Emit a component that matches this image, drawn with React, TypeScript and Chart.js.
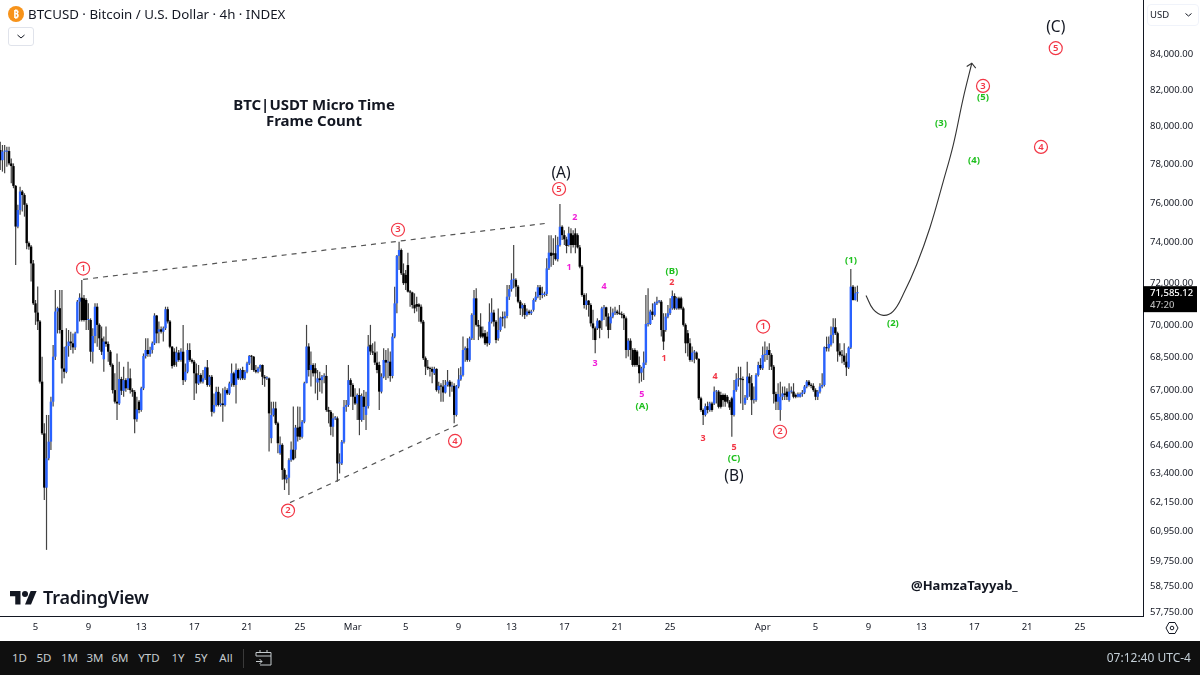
import { useEffect, useRef } from "react"
import { Chart, registerables } from "chart.js"

Chart.register(...registerables)

const FONT = '"Noto Sans", sans-serif'

// 4h candles, BTCUSD
const opens = [
  78760, 78220, 78670, 78670, 78700, 78050, 77910, 76880, 74810, 75650,
  76590, 76410, 75910, 73980, 73810, 72980, 71050, 70610, 70190, 67410,
  65110, 62780, 64030, 64750, 66510, 68550, 70660, 70820, 69790, 68010,
  67860, 69040, 69250, 69170, 68980, 69630, 71130, 71320, 71290, 71210,
  70260, 70260, 68780, 69510, 70890, 70030, 69400, 68430, 69250, 69140,
  68780, 68170, 67030, 66510, 66430, 67530, 67000, 67480, 67110, 67560,
  67030, 66950, 65730, 66510, 66140, 67110, 68580, 68860, 68670, 68860,
  69170, 70470, 69710, 69820, 69710, 69870, 70770, 70190, 69010, 68780,
  68320, 68740, 68400, 68780, 67480, 67860, 68860, 68400, 68320, 67790,
  67330, 67710, 67410, 67560, 68060, 67260, 67630, 66060, 66360, 66950,
  66360, 66430, 66360, 67030, 66880, 67330, 67790, 67260, 67940, 67560,
  67940, 67560, 67860, 68240, 68580, 68550, 67940, 67860, 68010, 68170,
  67630, 67560, 67560, 64900, 65920, 66210, 65550, 64250, 64610, 63530,
  63130, 63200, 63950, 64400, 64400, 65360, 65400, 64960, 65620, 67340,
  69020, 67940, 68170, 68020, 67370, 67560, 67480, 67640, 67670, 66140,
  66060, 65400, 65770, 65770, 63810, 63810, 64740, 66280, 66360, 67480,
  67260, 66730, 66430, 66810, 65700, 66730, 65920, 66310, 69100, 68790,
  68740, 68280, 68170, 66960, 67640, 68400, 68280, 68320, 67670, 69480,
  71050, 73350, 73640, 72500, 72420, 72900, 71610, 71570, 70970, 71020,
  71000, 70890, 70180, 68480, 68090, 68020, 67990, 67790, 67990, 67030,
  67220, 67190, 66920, 67260, 67410, 67190, 67220, 65920, 67190, 67510,
  67710, 68860, 68940, 68400, 69400, 70500, 71290, 70030, 69950, 69640,
  69640, 69480, 69170, 70180, 70610, 70180, 69400, 69790, 70370, 70340,
  70450, 71370, 71730, 72180, 72180, 71850, 71130, 70810, 70970, 70500,
  70660, 70580, 70740, 71210, 71370, 71820, 71450, 71450, 71500, 72740,
  73510, 73480, 73480, 73190, 73890, 74800, 74380, 74170, 73890, 74470,
  74380, 74470, 74380, 73770, 72820, 71450, 70970, 71180, 70970, 70100,
  69870, 69870, 70230, 70230, 70810, 70860, 70420, 70100, 70420, 70610,
  70660, 70580, 70550, 70500, 70340, 68860, 69290, 68860, 68860, 68790,
  68170, 67820, 68020, 68280, 70070, 70070, 70660, 70500, 71050, 71130,
  71130, 69790, 69790, 70420, 70580, 70810, 71400, 70810, 71290, 71290,
  70810, 70030, 69640, 69170, 68400, 68740, 68740, 68450, 66660, 66140,
  65920, 66310, 66140, 66430, 66430, 66960, 66960, 66810, 66810, 66810,
  66730, 66510, 66660, 65920, 67030, 67510, 67560, 67510, 66430, 66690,
  67640, 67340, 66580, 66580, 67710, 68170, 68020, 68630, 68630, 68860,
  68630, 68090, 66850, 66510, 66140, 66730, 66880, 66960, 66580, 66960,
  66960, 66810, 66730, 66730, 66850, 66920, 67190, 67410, 67260, 67220,
  67030, 66730, 66960, 67190, 67260, 68990, 68940, 69100, 69560, 69920,
  69640, 68790, 68630, 68600, 68320, 68060, 68970, 71850, 71210, 71530,
]

const highs = [
  79200, 79020, 79020, 78930, 78930, 78310, 78050, 76930, 75910, 76840,
  76670, 76500, 75990, 74060, 73890, 73150, 71210, 71860, 70260, 68550,
  65550, 65920, 65920, 66730, 69090, 71690, 70890, 71690, 71690, 69010,
  69870, 69790, 69710, 69630, 69710, 71210, 71530, 72170, 71450, 71290,
  71050, 70340, 69870, 71050, 71050, 70100, 69950, 69480, 69950, 69250,
  68860, 68240, 67790, 68700, 68320, 67630, 68090, 67560, 68320, 68010,
  67110, 67030, 66730, 66580, 67180, 68700, 69400, 69400, 69010, 69250,
  70580, 70500, 70190, 69950, 69950, 70890, 70890, 70260, 69040, 68940,
  69010, 68860, 68940, 70030, 68240, 69170, 69170, 68470, 68400, 68240,
  68170, 67790, 67940, 68090, 68400, 67710, 67710, 66880, 67180, 67180,
  66880, 67110, 67180, 67110, 67410, 68240, 67860, 68240, 68010, 68010,
  68090, 67940, 68320, 68630, 68630, 68580, 68170, 68090, 68190, 68190,
  67710, 67660, 67600, 66510, 66510, 66510, 65620, 64970, 64680, 63600,
  63320, 64030, 64750, 66290, 65480, 66290, 66280, 65700, 67410, 70030,
  69170, 68790, 68250, 68250, 67940, 67860, 67710, 67790, 68170, 66280,
  66140, 65990, 65870, 65850, 64240, 64820, 66580, 66580, 68170, 67560,
  67340, 67110, 66880, 67110, 66880, 67030, 66960, 69560, 70030, 69170,
  69250, 68790, 68320, 67790, 68940, 68860, 68940, 68790, 69640, 71850,
  73400, 74050, 73720, 72980, 72660, 73510, 71690, 71610, 71530, 71370,
  71050, 71000, 70260, 68560, 68400, 68090, 68090, 68090, 68020, 67410,
  67340, 67480, 67480, 67940, 67480, 67410, 67340, 67260, 68020, 68090,
  69480, 69020, 69400, 69480, 70580, 71690, 71770, 70260, 70580, 69950,
  69790, 69710, 71050, 71290, 70740, 70260, 70810, 70420, 70660, 70660,
  71930, 71930, 72500, 73890, 72260, 71930, 71210, 71050, 71050, 70810,
  70740, 70740, 71290, 71610, 71930, 71930, 71850, 71610, 73230, 74380,
  74380, 74220, 74380, 74300, 75950, 74880, 74630, 74300, 74800, 74720,
  74630, 74720, 74470, 73890, 72900, 71530, 71530, 71210, 71050, 70740,
  69950, 70340, 70260, 70890, 70970, 70890, 70580, 70890, 70810, 70890,
  70740, 70970, 70660, 70580, 70420, 69400, 69400, 68940, 68940, 68860,
  68560, 68090, 68790, 71450, 71770, 70740, 71050, 71130, 71370, 71210,
  71210, 70580, 70580, 70970, 71290, 71660, 71530, 71370, 71370, 71370,
  70890, 70100, 69790, 69400, 69020, 68860, 68790, 68480, 66730, 66210,
  66430, 66510, 66510, 66510, 67190, 67030, 67030, 66960, 66880, 66880,
  66810, 66580, 66730, 67480, 67790, 68090, 68090, 67640, 66810, 68320,
  67790, 67710, 67190, 67790, 68320, 68480, 69020, 69250, 69020, 69170,
  68710, 68170, 66960, 67340, 67410, 67190, 67190, 67110, 67340, 67190,
  67340, 66880, 66920, 66920, 67030, 67260, 67480, 67480, 67340, 67340,
  67110, 67030, 67340, 67790, 69020, 69480, 69480, 69950, 70340, 70340,
  69710, 69170, 68860, 69170, 68710, 69020, 72710, 71930, 71850, 71900,
]

const lows = [
  77700, 77620, 77530, 77880, 77960, 77020, 76760, 72900, 74720, 75400,
  75570, 75310, 73680, 73650, 72100, 70970, 70030, 69790, 67330, 65040,
  62260, 60210, 63950, 64390, 66290, 68400, 69630, 69630, 67330, 67560,
  67790, 68550, 68860, 68700, 68860, 69790, 70190, 70190, 70190, 69790,
  69790, 68320, 68240, 69170, 69010, 68860, 68630, 67860, 69010, 68320,
  68090, 66880, 66430, 65700, 66360, 66810, 66730, 66950, 67030, 66880,
  66730, 65110, 65620, 65990, 66060, 67030, 68470, 68550, 68550, 68700,
  69090, 69170, 69170, 69630, 69250, 69790, 70100, 68940, 68010, 68090,
  68090, 68320, 68320, 67260, 67410, 67790, 68320, 68240, 66580, 66880,
  67260, 67330, 67330, 67480, 67180, 67180, 65850, 65990, 66290, 66290,
  66290, 65620, 66290, 66810, 66810, 67180, 67180, 66430, 67480, 67480,
  67480, 67480, 67790, 68170, 67940, 67860, 67790, 67790, 67860, 67260,
  67180, 67480, 64320, 64680, 65850, 65480, 64250, 64180, 63110, 62680,
  62960, 62470, 63880, 63950, 64030, 64750, 64820, 64890, 65550, 67340,
  67640, 67190, 67640, 66880, 66580, 66960, 66880, 67340, 66060, 65550,
  65030, 64960, 65700, 63030, 63380, 63740, 64670, 66060, 66280, 66730,
  66140, 66360, 65700, 65030, 65620, 65700, 65260, 66210, 68630, 68630,
  68170, 67790, 66140, 66880, 67560, 67480, 67560, 67410, 67560, 69400,
  70580, 72660, 72420, 71930, 71690, 71570, 70890, 70810, 70580, 70660,
  70180, 70100, 68400, 67710, 67940, 67640, 67340, 67710, 66960, 66880,
  66510, 66510, 66880, 67190, 66730, 66960, 65550, 65850, 67110, 67450,
  67640, 68320, 68320, 68320, 69320, 69320, 69950, 69320, 69400, 69400,
  69090, 69020, 69090, 70100, 69950, 69170, 69290, 69710, 69950, 69870,
  70340, 71210, 71610, 71770, 71370, 71050, 70500, 70420, 70310, 70420,
  70500, 70500, 70660, 71130, 71290, 71210, 71290, 71370, 71400, 72660,
  72820, 72900, 73120, 73070, 73810, 74140, 73890, 73480, 73810, 73480,
  73770, 73480, 73720, 72740, 71370, 70810, 70740, 70420, 69950, 69320,
  68710, 69790, 69400, 69790, 70260, 69950, 69400, 69790, 70340, 70500,
  70500, 70500, 70340, 69790, 68480, 68560, 68400, 68090, 68090, 68090,
  67340, 67410, 67480, 68170, 69950, 70030, 70260, 70420, 70970, 71050,
  69480, 68860, 69710, 70340, 70500, 70740, 70740, 70740, 70740, 70740,
  69950, 68710, 68560, 68320, 68320, 68250, 68400, 66580, 66060, 65480,
  65850, 65990, 66060, 66060, 66360, 66430, 66210, 66210, 66280, 66280,
  66430, 66140, 64960, 65850, 66960, 67190, 66430, 66140, 66360, 66580,
  66730, 65920, 66430, 66510, 67640, 67940, 67940, 68320, 68400, 67940,
  67940, 66430, 66140, 66140, 65660, 66580, 66580, 66580, 66510, 66880,
  66660, 66660, 66700, 66700, 66730, 66850, 67110, 67190, 67110, 66960,
  66580, 66580, 66880, 67110, 67190, 68790, 68790, 69020, 69170, 69560,
  68320, 68560, 68250, 68170, 67670, 67990, 68910, 71180, 71180, 71130,
]

const closes = [
  78220, 78670, 78670, 78700, 78050, 77910, 76880, 74810, 75650, 76590,
  76410, 75910, 73980, 73810, 72980, 71050, 70610, 70190, 67410, 65110,
  62780, 64030, 64750, 66510, 68550, 70660, 70820, 69790, 68010, 67860,
  69040, 69250, 69170, 68980, 69630, 71130, 71320, 70260, 70260, 70260,
  70260, 68780, 69510, 70890, 70030, 69400, 68780, 69250, 69140, 68780,
  68170, 67030, 66510, 66430, 67530, 67000, 67480, 67110, 67560, 67030,
  66950, 65730, 66170, 66140, 67110, 68580, 68860, 68670, 68860, 69170,
  70470, 69630, 69820, 69710, 69870, 70770, 70190, 69010, 68120, 68170,
  68740, 68400, 68780, 67480, 67860, 68860, 68400, 68320, 67790, 67330,
  67710, 67410, 67560, 68060, 67260, 67630, 66060, 66360, 66950, 66360,
  66430, 66360, 67030, 66880, 67330, 67790, 67260, 67940, 67560, 67940,
  67560, 67860, 68240, 68580, 68550, 67940, 67860, 68010, 68170, 67630,
  67560, 67600, 65990, 65920, 66210, 65550, 64680, 64610, 63530, 63130,
  63200, 63950, 64400, 63980, 65360, 64970, 64960, 65620, 67340, 69020,
  67940, 68170, 67790, 67790, 67560, 67480, 67640, 67670, 66140, 66060,
  65400, 65770, 65770, 63810, 63810, 64740, 66280, 66360, 67480, 67260,
  66730, 66430, 66810, 65700, 66760, 66280, 66310, 69020, 68790, 68740,
  68280, 67940, 66960, 67640, 68400, 68280, 68320, 67670, 69480, 71050,
  73350, 73640, 72500, 72020, 72020, 71610, 71570, 70970, 70810, 70890,
  70890, 70180, 68480, 68090, 68020, 67990, 67860, 67990, 67030, 67220,
  67190, 66920, 67260, 67410, 67190, 67220, 65920, 67190, 67510, 67710,
  68860, 68940, 68400, 69400, 70500, 71290, 70030, 69950, 69480, 69480,
  69170, 69170, 70180, 70610, 70180, 69320, 69790, 70370, 70340, 70450,
  71370, 71730, 72180, 72210, 71850, 71130, 70810, 70970, 70500, 70660,
  70580, 70660, 71210, 71370, 71820, 71450, 71530, 71500, 72740, 73510,
  73350, 73400, 73190, 73890, 74800, 74380, 74170, 73840, 74470, 73890,
  73890, 73890, 73770, 72820, 71450, 70970, 71180, 70970, 70100, 69870,
  69320, 70230, 69870, 70810, 70860, 70420, 69790, 70420, 70610, 70660,
  70580, 70550, 70500, 70340, 68860, 69290, 68860, 68170, 68170, 68170,
  67790, 68020, 68280, 70070, 70070, 70660, 70500, 71050, 71130, 71130,
  69790, 69250, 70420, 70580, 70810, 71400, 70810, 71290, 70810, 70810,
  70030, 69170, 69170, 68400, 68740, 68740, 68450, 66660, 66140, 65920,
  66310, 66140, 66430, 66140, 66960, 66960, 66280, 66280, 66580, 66510,
  66510, 66250, 65920, 67030, 67510, 67560, 67510, 67480, 66690, 67640,
  67340, 66580, 66580, 67710, 68170, 68020, 68630, 68630, 68860, 68630,
  68090, 66850, 66510, 66850, 66730, 66880, 66810, 66730, 66960, 66960,
  66730, 66730, 66850, 66850, 66920, 67190, 67410, 67260, 67220, 67030,
  66730, 66960, 67190, 67260, 68990, 68940, 69140, 69560, 69920, 69640,
  68790, 68630, 68600, 68320, 68060, 68970, 71850, 71210, 71530, 71585,
]

const yTickValues = [
  84000, 82000, 80000, 78000, 76000, 74000, 72000, 70000, 68500, 67000, 65800,
  64600, 63400, 62150, 60950, 59750, 58750, 57750,
]

const xTickBars = [16, 40, 64, 88, 112, 136, 160, 184, 208, 232, 256, 280, 304, 346, 370, 394, 418, 442, 466, 490]
const xTickLabels = ["5", "9", "13", "17", "21", "25", "Mar", "5", "9", "13", "17", "21", "25", "Apr", "5", "9", "13", "17", "21", "25"]

// drawings, in bar number / price
const upperTrend = [{ x: 37.6, y: 72200 }, { x: 249, y: 74990 }]
const lowerTrend = [{ x: 131.5, y: 62150 }, { x: 208.6, y: 65530 }]
const projection = [
  { x: 392.9, y: 71430 }, { x: 396.2, y: 70760 }, { x: 400.7, y: 70480 }, { x: 405.3, y: 70680 },
  { x: 409.8, y: 71480 }, { x: 415.9, y: 72930 }, { x: 421.9, y: 74750 }, { x: 427.9, y: 77090 },
  { x: 432.5, y: 79030 }, { x: 437, y: 81540 }, { x: 440.9, y: 83480 },
]
const arrowHead = [{ x: 438.6, y: 83300 }, { x: 440.9, y: 83480 }, { x: 442.7, y: 83210 }]

const circled = [
  { text: "1", x: 37.6, y: 72730 }, { text: "3", x: 180.5, y: 74650 }, { text: "5", x: 253.6, y: 76720 },
  { text: "2", x: 130.6, y: 61820 }, { text: "4", x: 206.4, y: 64780 }, { text: "1", x: 346.2, y: 69950 },
  { text: "2", x: 353.9, y: 65180 }, { text: "3", x: 446, y: 82220 }, { text: "4", x: 472.3, y: 78920 },
  { text: "5", x: 479, y: 84330 },
]
const blackLabels = [
  { text: "(A)", x: 254.5, y: 77540 }, { text: "(B)", x: 333, y: 63230 }, { text: "(C)", x: 479, y: 85530 },
]
const redLabels = [
  { text: "2", x: 304.8, y: 72050 }, { text: "1", x: 301.2, y: 68450 }, { text: "3", x: 318.9, y: 64910 },
  { text: "4", x: 324.4, y: 67640 }, { text: "5", x: 333, y: 64510 },
]
const magentaLabels = [
  { text: "1", x: 258.1, y: 72780 }, { text: "2", x: 260.8, y: 75250 }, { text: "3", x: 269.9, y: 68220 },
  { text: "4", x: 274, y: 71860 }, { text: "5", x: 291.2, y: 66820 },
]
const greenLabels = [
  { text: "(B)", x: 304.8, y: 72590 }, { text: "(A)", x: 291.2, y: 66290 }, { text: "(C)", x: 333, y: 64040 },
  { text: "(1)", x: 386.1, y: 73120 }, { text: "(2)", x: 405.1, y: 70100 }, { text: "(3)", x: 426.9, y: 80160 },
  { text: "(4)", x: 441.9, y: 78210 }, { text: "(5)", x: 446, y: 81570 },
]

const lastPrice = 71585.12
const RED = "#f23645"
const MAGENTA = "#f01fd8"
const GREEN = "#1fc01f"
const UP = "#2962ff"
const DOWN = "#000000"

const price = (v: number) => v.toLocaleString("en-US", { minimumFractionDigits: 2, maximumFractionDigits: 2 })

const drawingsPlugin = {
  id: "drawings",
  afterDatasetsDraw(chart: any) {
    const { ctx, scales } = chart
    const put = (rows: any[], font: string, color: string) => {
      ctx.font = font
      ctx.fillStyle = color
      ctx.textAlign = "center"
      ctx.textBaseline = "middle"
      rows.forEach((r) => ctx.fillText(r.text, scales.x.getPixelForValue(r.x), scales.y.getPixelForValue(r.y)))
    }
    ctx.save()
    // rings are drawn here, a point dataset this big would push the plot area in
    ctx.strokeStyle = RED
    ctx.lineWidth = 1.2
    circled.forEach((r) => {
      ctx.beginPath()
      ctx.arc(scales.x.getPixelForValue(r.x), scales.y.getPixelForValue(r.y), 6.5, 0, Math.PI * 2)
      ctx.stroke()
    })
    put(circled, `600 9.5px ${FONT}`, RED)
    put(redLabels, `700 9px ${FONT}`, RED)
    put(magentaLabels, `700 9px ${FONT}`, MAGENTA)
    put(greenLabels, `700 9.5px ${FONT}`, GREEN)
    put(blackLabels, `400 15.5px ${FONT}`, "#131722")
    ctx.restore()
  },
  afterDraw(chart: any) {
    // last price tag on the axis
    const { ctx, scales, chartArea } = chart
    const y = scales.y.getPixelForValue(lastPrice)
    ctx.save()
    ctx.fillStyle = "#000"
    ctx.fillRect(chartArea.right, y - 6, 54, 26)
    ctx.font = `500 9.5px ${FONT}`
    ctx.textAlign = "left"
    ctx.textBaseline = "middle"
    ctx.fillStyle = "#fff"
    ctx.fillText(price(lastPrice), chartArea.right + 7, y + 1.5)
    ctx.fillStyle = "#b8b8b8"
    ctx.fillText("47:20", chartArea.right + 7, y + 13)
    ctx.restore()
  },
}

const rangeButtons = [
  ["1D", 19.5], ["5D", 44], ["1M", 69.5], ["3M", 95], ["6M", 120], ["YTD", 149], ["1Y", 178], ["5Y", 201], ["All", 226],
] as const

const abs = (left: number, top: number, extra: any = {}) => ({ position: "absolute", left, top, ...extra }) as any

// the layout keeps room for half a tick label otherwise
const noPadding = (scale: any) => {
  scale.paddingTop = 0
  scale.paddingBottom = 0
  scale.paddingLeft = 0
  scale.paddingRight = 0
}

export default function App() {
  const chartRef = useRef<HTMLCanvasElement>(null)

  useEffect(() => {
    if (!chartRef.current) return
    const bars = opens.map((_, i) => i)
    const colors = bars.map((i) => (closes[i] >= opens[i] ? UP : DOWN))
    const thin = { pointRadius: 0, pointBorderWidth: 0, pointHoverRadius: 0, pointHitRadius: 0, order: 0 }

    const chart = new Chart(chartRef.current, {
      type: "bar",
      data: {
        datasets: [
          { type: "line", data: upperTrend, borderColor: "#555", borderWidth: 1.2, borderDash: [5, 5], ...thin },
          { type: "line", data: lowerTrend, borderColor: "#555", borderWidth: 1.2, borderDash: [5, 5], ...thin },
          { type: "line", data: projection, borderColor: "#333", borderWidth: 1.1, tension: 0.4, ...thin },
          { type: "line", data: arrowHead, borderColor: "#333", borderWidth: 1.1, ...thin },
          {
            data: bars.map((i) => ({ x: i, y: [opens[i], closes[i]] })),
            backgroundColor: colors,
            barThickness: 2.4,
            minBarLength: 1,
            grouped: false,
            inflateAmount: 0,
            order: 1,
          },
          {
            data: bars.map((i) => ({ x: i, y: [lows[i], highs[i]] })),
            backgroundColor: "#444",
            barThickness: 1.2,
            grouped: false,
            inflateAmount: 0,
            order: 2,
          },
        ] as any,
      },
      options: {
        responsive: false,
        animation: false,
        layout: { padding: 0 },
        plugins: { legend: { display: false }, tooltip: { enabled: false } },
        scales: {
          x: {
            type: "linear",
            min: -0.11,
            max: 518.6,
            offset: false,
            grid: { display: true, drawOnChartArea: false, drawTicks: false, offset: false },
            border: { color: "#131722" },
            afterBuildTicks: (scale: any) => {
              scale.ticks = xTickBars.map((value) => ({ value }))
            },
            afterFit: (scale: any) => {
              scale.height = 25
              noPadding(scale)
            },
            ticks: {
              autoSkip: false,
              maxRotation: 0,
              padding: 6,
              color: "#131722",
              font: { family: FONT, size: 9.5 },
              callback: (v: any) => xTickLabels[xTickBars.indexOf(v)],
            },
          },
          y: {
            type: "logarithmic",
            position: "right",
            bounds: "data",
            min: 57595,
            max: 87102,
            grid: { display: true, drawOnChartArea: false, drawTicks: false },
            border: { color: "#131722" },
            afterBuildTicks: (scale: any) => {
              scale.ticks = yTickValues.map((value) => ({ value }))
            },
            afterFit: (scale: any) => {
              scale.width = 57
              noPadding(scale)
            },
            ticks: {
              autoSkip: false,
              padding: 7,
              color: "#131722",
              font: { family: FONT, size: 9.5 },
              callback: (v: any) => price(Number(v)),
            },
          },
        },
      } as any,
      plugins: [drawingsPlugin],
    })

    return () => chart.destroy()
  }, [])

  return (
    <div style={{ position: "fixed", inset: 0, width: 1200, height: 675, overflow: "hidden", background: "#fff", fontFamily: FONT, color: "#131722" }}>
      <canvas ref={chartRef} width={1200} height={641} style={{ position: "absolute", left: 0, top: 0 }} />

      {/* header */}
      <svg style={abs(8, 6)} width={16} height={16} viewBox="0 0 16 16">
        <circle cx="8" cy="8" r="8" fill="#f7931a" />
        <text x="8" y="11.5" textAnchor="middle" fontSize="10" fontWeight="700" fill="#fff" fontFamily={FONT}>₿</text>
      </svg>
      <div style={abs(28, 6, { fontSize: 13.3, lineHeight: "17px", whiteSpace: "nowrap" })}>BTCUSD · Bitcoin / U.S. Dollar · 4h · INDEX</div>
      <div style={abs(8, 27, { width: 24, height: 17, border: "1px solid #e0e3eb", borderRadius: 3, background: "#fff" })}>
        <svg width={24} height={17} viewBox="0 0 24 17">
          <path d="M8.5 7l3.5 3 3.5-3" fill="none" stroke="#131722" strokeWidth="1" />
        </svg>
      </div>

      {/* text on the chart */}
      <div style={abs(214, 97, { width: 200, textAlign: "center", fontSize: 15, fontWeight: 700, lineHeight: "15.5px" })}>
        BTC|USDT Micro Time
        <br />
        Frame Count
      </div>
      <div style={abs(911, 577, { fontSize: 13, fontWeight: 700, lineHeight: "17px", whiteSpace: "nowrap" })}>@HamzaTayyab_</div>

      {/* logo */}
      <svg style={abs(10, 588)} width={27} height={21} viewBox="0 0 36 28">
        <path d="M14 22H7V11H0V4h14v18zM28 22h-8l7.5-18h8L28 22z" fill="#131722" />
        <circle cx="20" cy="8" r="4" fill="#131722" />
      </svg>
      <div style={abs(43, 584, { fontSize: 18, fontWeight: 600, lineHeight: "27px", whiteSpace: "nowrap", letterSpacing: -0.2 })}>TradingView</div>

      {/* currency box */}
      <div style={abs(1147, 4, { width: 48, height: 20, border: "1px solid #f0f3fa", borderRadius: 4, fontSize: 9.5, lineHeight: "20px", paddingLeft: 2, boxSizing: "content-box" })}>
        USD
        <svg style={abs(36, 7)} width={9} height={6} viewBox="0 0 9 6">
          <path d="M1.5 1.5l3 2.5 3-2.5" fill="none" stroke="#131722" strokeWidth="1" />
        </svg>
      </div>

      {/* settings hexagon */}
      <svg style={abs(1165, 621)} width={14} height={14} viewBox="0 0 14 14">
        <path d="M4 1.5h6L13 7l-3 5.5H4L1 7z" fill="none" stroke="#131722" strokeWidth="1" />
        <circle cx="7" cy="7" r="1.8" fill="none" stroke="#131722" strokeWidth="1" />
      </svg>

      {/* range bar */}
      <div style={abs(0, 641, { width: 1200, height: 34, background: "#0f0f0f" })} />
      {rangeButtons.map(([label, x]) => (
        <div key={label} style={abs(x - 20, 649, { width: 40, textAlign: "center", fontSize: 11.5, lineHeight: "18px", color: "#c5cbce" })}>{label}</div>
      ))}
      <div style={abs(243, 649, { width: 1, height: 19, background: "#3a3a3a" })} />
      <svg style={abs(254, 649)} width={19} height={18} viewBox="0 0 19 18">
        <path d="M2 7V3.5h15V16H6M2 7h15M6 1v3M13 1v3M2 12.5h6M5.5 10l2.5 2.5L5.5 15" fill="none" stroke="#c5cbce" strokeWidth="1" />
      </svg>
      <div style={abs(1050, 649, { width: 141, textAlign: "right", fontSize: 12, lineHeight: "18px", color: "#c5d0d8" })}>07:12:40 UTC-4</div>
    </div>
  )
}
